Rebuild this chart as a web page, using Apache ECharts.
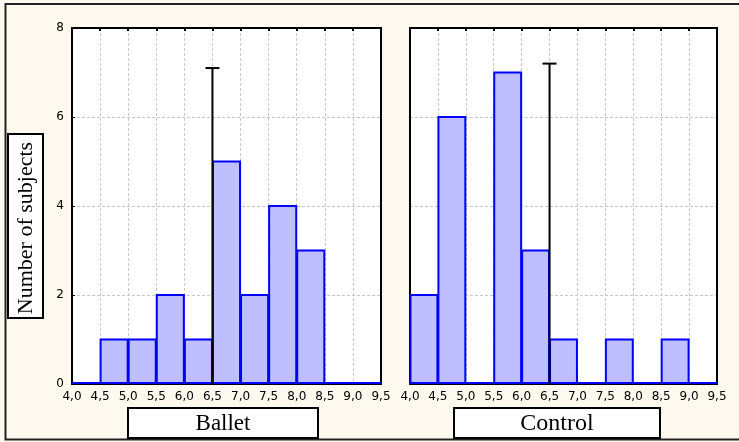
<!DOCTYPE html>
<html>
<head>
<meta charset="utf-8">
<script src="https://cdn.jsdelivr.net/npm/echarts@6/dist/echarts.min.js"></script>
<style>
html,body{margin:0;padding:0;background:#fef9ee;}
#main{width:739px;height:442px;}
</style>
</head>
<body>
<div id="main"></div>
<script>
// ---- data ----
const binEdges = [4.0, 4.5, 5.0, 5.5, 6.0, 6.5, 7.0, 7.5, 8.0, 8.5, 9.0, 9.5];
const balletCounts = [0, 1, 1, 2, 1, 5, 2, 4, 3, 0, 0];
const controlCounts = [2, 6, 0, 7, 3, 1, 0, 1, 0, 1, 0];
const balletMarker = [6.5, 7.1];
const controlMarker = [6.5, 7.2];
const panelNames = ['Ballet', 'Control'];
const yTitle = 'Number of subjects';
const yTicks = [0, 2, 4, 6, 8];

function binRows(counts) {
  return counts.map((c, i) => [binEdges[i], binEdges[i + 1], c]);
}

const chart = echarts.init(document.getElementById('main'));

const tickFont = { fontFamily: 'DejaVu Sans', fontSize: 12, color: '#000' };
const gridLine = { show: true, showMinLine: false, showMaxLine: false, lineStyle: { color: '#c8c8c8', type: [3, 2], width: 1 } };

function xAxisFor(gi) {
  return {
    type: 'value', gridIndex: gi, min: binEdges[0], max: binEdges[binEdges.length - 1], interval: 0.5,
    axisLine: { show: true, onZero: false, lineStyle: { color: '#000', width: 2 } },
    axisTick: { show: false },
    axisLabel: Object.assign({ margin: 7, formatter: v => v.toFixed(1).replace('.', ','), showMinLabel: true, showMaxLabel: true }, tickFont),
    splitLine: gridLine
  };
}
function xTopFor(gi) {
  return {
    type: 'value', gridIndex: gi, position: 'top', min: binEdges[0], max: binEdges[binEdges.length - 1], interval: 0.5,
    axisLine: { show: true, onZero: false, lineStyle: { color: '#000', width: 2 } },
    axisTick: { show: true, inside: true, length: 3, lineStyle: { color: '#000', width: 2 } },
    axisLabel: { show: false }, splitLine: { show: false }
  };
}
function yAxisFor(gi, showLabels) {
  return {
    type: 'value', gridIndex: gi, min: yTicks[0], max: yTicks[yTicks.length - 1], interval: 2,
    axisLine: { show: true, onZero: false, lineStyle: { color: '#000', width: 2 } },
    axisTick: { show: showLabels, inside: true, length: 3, lineStyle: { color: '#000' } },
    axisLabel: Object.assign({ show: showLabels, margin: 8 }, tickFont),
    splitLine: gridLine
  };
}
function yRightFor(gi) {
  return {
    type: 'value', gridIndex: gi, position: 'right', min: yTicks[0], max: yTicks[yTicks.length - 1], interval: 2,
    axisLine: { show: true, onZero: false, lineStyle: { color: '#000', width: 2 } },
    axisTick: { show: false }, axisLabel: { show: false }, splitLine: { show: false }
  };
}

function histSeries(gi, counts) {
  return {
    type: 'custom', xAxisIndex: gi * 2, yAxisIndex: gi * 2,
    data: binRows(counts),
    renderItem: function (params, api) {
      const lo = api.value(0), hi = api.value(1), c = api.value(2);
      const p0 = api.coord([lo, 0]);
      const p1 = api.coord([hi, c]);
      if (c === 0) {
        return { type: 'line', shape: { x1: p0[0], y1: p0[1] - 1, x2: p1[0], y2: p0[1] - 1 },
          style: { stroke: '#0000ff', lineWidth: 2 } };
      }
      return { type: 'rect', shape: { x: p0[0] + 0.5, y: p1[1], width: p1[0] - p0[0] - 1, height: p0[1] - p1[1] - 1 },
        style: { fill: '#bfbfff', stroke: '#0000ff', lineWidth: 2 } };
    },
    z: 3
  };
}
function markerSeries(gi, m) {
  return {
    type: 'custom', xAxisIndex: gi * 2, yAxisIndex: gi * 2,
    data: [m],
    renderItem: function (params, api) {
      const b = api.coord([api.value(0), 0]);
      const t = api.coord([api.value(0), api.value(1)]);
      return { type: 'group', children: [
        { type: 'line', shape: { x1: b[0], y1: b[1], x2: t[0], y2: t[1] }, style: { stroke: '#000', lineWidth: 2 } },
        { type: 'line', shape: { x1: t[0] - 7, y1: t[1], x2: t[0] + 7, y2: t[1] }, style: { stroke: '#000', lineWidth: 2 } }
      ] };
    },
    z: 5
  };
}

const serif = 'Liberation Serif';

chart.setOption({
  backgroundColor: '#fef9ee',
  animation: false,
  grid: [
    { left: 72, right: 358, top: 28, bottom: 58, show: true, backgroundColor: '#fff', borderWidth: 0 },
    { left: 410, right: 22, top: 28, bottom: 58, show: true, backgroundColor: '#fff', borderWidth: 0 }
  ],
  xAxis: [xAxisFor(0), xTopFor(0), xAxisFor(1), xTopFor(1)],
  yAxis: [yAxisFor(0, true), yRightFor(0), yAxisFor(1, false), yRightFor(1)],
  series: [
    histSeries(0, balletCounts), markerSeries(0, balletMarker),
    histSeries(1, controlCounts), markerSeries(1, controlMarker)
  ],
  graphic: [
    { type: 'polyline', shape: { points: [[739, 4], [5.5, 4], [5.5, 439.5], [739, 439.5]] }, style: { stroke: '#222', lineWidth: 2, fill: null } },
    { type: 'rect', shape: { x: 8, y: 134, width: 35, height: 184 }, style: { fill: '#fff', stroke: '#000', lineWidth: 2 } },
    { type: 'text', x: 26, y: 228, rotation: Math.PI / 2, style: { text: yTitle, font: '22px "' + serif + '"', fill: '#000', align: 'center', verticalAlign: 'middle' } },
    { type: 'rect', shape: { x: 128, y: 408, width: 190, height: 30 }, style: { fill: '#fff', stroke: '#000', lineWidth: 2 } },
    { type: 'text', x: 223, y: 424, style: { text: panelNames[0], font: '23px "' + serif + '"', fill: '#000', align: 'center', verticalAlign: 'middle' } },
    { type: 'rect', shape: { x: 454, y: 408, width: 206, height: 30 }, style: { fill: '#fff', stroke: '#000', lineWidth: 2 } },
    { type: 'text', x: 557, y: 424, style: { text: panelNames[1], font: '24px "' + serif + '"', fill: '#000', align: 'center', verticalAlign: 'middle' } }
  ]
});
</script>
</body>
</html>
